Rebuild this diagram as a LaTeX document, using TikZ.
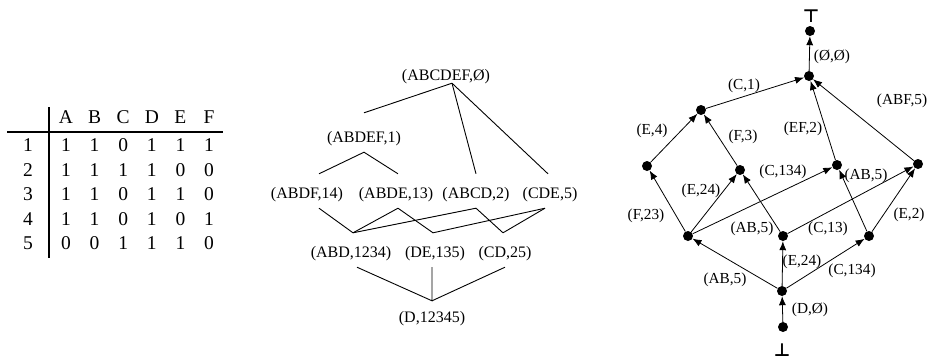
\documentclass[tikz,border=0pt]{standalone}
\usepackage{fontspec}
\setmainfont{Liberation Serif}
\newfontfamily\symfont{DejaVu Sans}
\usetikzlibrary{arrows.meta}

\begin{document}
\begin{tikzpicture}[x=1pt, y=-1pt,
  tab/.style={font=\fontsize{19.5}{21}\selectfont, inner sep=0},
  lat/.style={font=\fontsize{16}{18}\selectfont, inner sep=0, anchor=base, text height=24pt, text depth=10pt},
  dot/.style={circle, fill, inner sep=0, minimum size=10pt},
  lbl/.style={font=\fontsize{15.3}{17}\selectfont, inner sep=0},
  sym/.style={font=\symfont\bfseries\fontsize{18}{20}\selectfont, inner sep=0},
  arr/.style={-{Latex[length=9pt,width=7pt]}, line width=0.8pt},
  lin/.style={line width=0.9pt}]
\useasboundingbox (0,0) rectangle (929,360);

% context table
\draw[line width=1.6pt] (49,107) -- (49,258);
\draw[line width=1.6pt] (7,132) -- (223,132);
\foreach \c [count=\i] in {A,B,C,D,E,F}
  \node[tab] (h\i) at (37.4+28.6*\i,117) {\c};
\foreach \r/\vals in {1/{1,1,0,1,1,1}, 2/{1,1,1,1,0,0}, 3/{1,1,0,1,1,0}, 4/{1,1,0,1,0,1}, 5/{0,0,1,1,1,0}} {
  \node[tab] (r\r) at (28,121+24.5*\r) {\r};
  \foreach \v [count=\i] in \vals
    \node[tab] (c\r\i) at (37.4+28.6*\i,121+24.5*\r) {\v};
}

% concept lattice
\node[lat, text depth=3pt] (top) at (446,80) {(ABCDEF,Ø)};
\node[lat, text height=29pt] (abdef) at (364,142) {(ABDEF,1)};
\node[lat] (abdf) at (307,198) {(ABDF,14)};
\node[lat] (abde) at (396,198) {(ABDE,13)};
\node[lat] (abcd) at (476,198) {(ABCD,2)};
\node[lat] (cde) at (550,198) {(CDE,5)};
\node[lat] (abd) at (351,257) {(ABD,1234)};
\node[lat] (de) at (435,257) {(DE,135)};
\node[lat] (cd) at (505,257) {(CD,25)};
\node[lat, text height=21pt] (d) at (432,322) {(D,12345)};
\draw[lin] ([xshift=6pt]top.south) -- (abdef.north);
\draw[lin] ([xshift=6pt]top.south) -- (abcd.north);
\draw[lin] ([xshift=6pt]top.south) -- ([xshift=-2pt]cde.north);
\draw[lin] ([xshift=12pt]abdf.north) -- (abdef.south) -- ([xshift=2pt]abde.north);
\draw[lin] ([xshift=12pt]abdf.south) -- ([xshift=2pt]abd.north) -- ([xshift=2pt]abde.south);
\draw[lin] ([xshift=2pt]abd.north) -- (abcd.south) -- ([xshift=-2pt]cd.north);
\draw[lin] ([xshift=2pt]abde.south) -- ([xshift=-2pt]de.north) -- ([xshift=-5pt]cde.south);
\draw[lin] ([xshift=-2pt]cd.north) -- ([xshift=-5pt]cde.south);
\draw[lin] ([xshift=6pt]abd.south) -- (d.north) -- ([xshift=-3pt]de.south);
\draw[lin] (d.north) -- (cd.south);

% graph
\node[sym] (topsym) at (811,16) {⊤};
\node[dot] (t0) at (810,31) {};
\node[dot] (root) at (809,76) {};
\node[dot] (c1) at (701,110) {};
\node[dot] (e4) at (647,166) {};
\node[dot] (f3) at (740,170) {};
\node[dot] (ef2) at (837,165) {};
\node[dot] (abf5) at (918,164) {};
\node[dot] (l) at (688,236) {};
\node[dot] (m) at (783,236) {};
\node[dot] (rr) at (869,236) {};
\node[dot] (dn) at (782,291) {};
\node[dot] (b0) at (783,327) {};
\node[sym] (botsym) at (782,350) {⊥};
\draw[arr] (b0) -- (dn) node[lbl] at (810,310) {(D,Ø)};
\draw[arr] (dn) -- (l) node[lbl] at (725,280) {(AB,5)};
\draw[arr] (dn) -- (m) node[lbl] at (802,262) {(E,24)};
\draw[arr] (dn) -- (rr) node[lbl] at (852,271) {(C,134)};
\draw[arr] (l) -- (e4) node[lbl] at (646,216) {(F,23)};
\draw[arr] (l) -- (f3) node[lbl] at (701,191) {(E,24)};
\draw[arr] (l) -- (ef2) node[lbl] at (783,172) {(C,134)};
\draw[arr] (m) -- (f3) node[lbl] at (752,229) {(AB,5)};
\draw[arr] (m) -- (abf5) node[lbl] at (828,229) {(C,13)};
\draw[arr] (rr) -- (ef2) node[lbl] at (866,176) {(AB,5)};
\draw[arr] (rr) -- (abf5) node[lbl] at (909,215) {(E,2)};
\draw[arr] (e4) -- (c1) node[lbl] at (652,131) {(E,4)};
\draw[arr] (f3) -- (c1) node[lbl] at (743,137) {(F,3)};
\draw[arr] (c1) -- (root) node[lbl] at (744,86) {(C,1)};
\draw[arr] (ef2) -- (root) node[lbl] at (803,129) {(EF,2)};
\draw[arr] (abf5) -- (root) node[lbl] at (902,101) {(ABF,5)};
\draw[arr] (root) -- (t0) node[lbl] at (832,57) {(Ø,Ø)};
\end{tikzpicture}
\end{document}
